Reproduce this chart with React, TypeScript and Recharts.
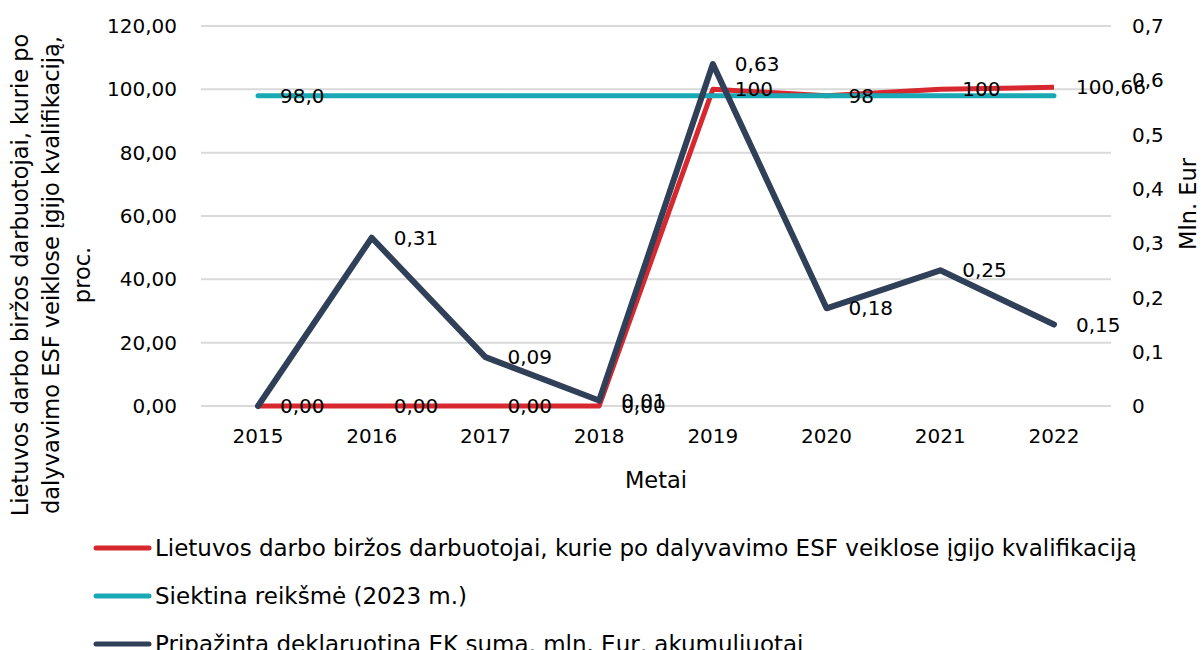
import React from "react"
import { LineChart, Line, XAxis, YAxis, CartesianGrid, Legend, LabelList } from "recharts"

const years = ["2015", "2016", "2017", "2018", "2019", "2020", "2021", "2022"]
const qualifiedPct = [0, 0, 0, 0, 100, 98, 100, 100.66]
const targetPct = [98, 98, 98, 98, 98, 98, 98, 98]
const ecAmount = [0, 0.31, 0.09, 0.01, 0.63, 0.18, 0.25, 0.15]

const qualifiedLabels = ["0,00", "0,00", "0,00", "0,00", "100", "98", "100", "100,66"]
const targetLabels = ["98,0", "", "", "", "", "", "", ""]
const ecLabels = ["", "0,31", "0,09", "0,01", "0,63", "0,18", "0,25", "0,15"]

const leftTicks = [0, 20, 40, 60, 80, 100, 120]
const rightTicks = [0, 0.1, 0.2, 0.3, 0.4, 0.5, 0.6, 0.7]

const seriesNames = {
  qualified: "Lietuvos darbo biržos darbuotojai, kurie po dalyvavimo ESF veiklose įgijo kvalifikaciją",
  target: "Siektina reikšmė (2023 m.)",
  ec: "Pripažinta deklaruotina EK suma, mln. Eur, akumuliuotai",
}

const colors = {
  qualified: "#d7282f",
  target: "#19a9b5",
  ec: "#2f4058",
}

const data = years.map((year, i) => ({
  year,
  qualified: qualifiedPct[i],
  target: targetPct[i],
  ec: ecAmount[i],
  qLabel: qualifiedLabels[i],
  tLabel: targetLabels[i],
  eLabel: ecLabels[i],
}))

const FONT = "'DejaVu Sans', sans-serif"
const TEXT_SIZE = 22.5
const NUM_SIZE = 20

function LeftTitle() {
  return (
    <text transform="translate(28,275) rotate(-90)" textAnchor="middle" fontSize={TEXT_SIZE} fill="#000" fontFamily={FONT}>
      <tspan x={0} dy={0}>Lietuvos darbo biržos darbuotojai, kurie po</tspan>
      <tspan x={0} dy={31}>dalyvavimo ESF veiklose įgijo kvalifikaciją,</tspan>
      <tspan x={0} dy={31}>proc.</tspan>
    </text>
  )
}

function RightTitle() {
  return (
    <text transform="translate(1196,204) rotate(-90)" textAnchor="middle" fontSize={TEXT_SIZE} fill="#000" fontFamily={FONT}>
      Mln. Eur
    </text>
  )
}

function LegendBox() {
  const items = (["qualified", "target", "ec"] as const).map((k) => ({ name: seriesNames[k], color: colors[k] }))
  return (
    <div style={{ height: 0, overflow: "visible" }}>
      {items.map((it) => (
        <div key={it.name} style={{ display: "flex", alignItems: "center", height: 48, whiteSpace: "nowrap" }}>
          <svg width={63} height={10} style={{ flex: "none" }}>
            <line x1={4} y1={5} x2={57} y2={5} stroke={it.color} strokeWidth={5} strokeLinecap="round" />
          </svg>
          <span style={{ fontSize: 23, color: "#000", fontFamily: FONT }}>{it.name}</span>
        </div>
      ))}
    </div>
  )
}

const fmtLeft = (v: number) => v.toFixed(2).replace(".", ",")
const fmtRight = (v: number) => (v === 0 ? "0" : String(Math.round(v * 10) / 10).replace(".", ","))

export default function App() {
  return (
    <div style={{ position: "absolute", left: 0, top: 0, width: 1204, height: 650, background: "#fff", fontFamily: FONT }}>
      <LineChart width={1204} height={650} data={data} margin={{ top: 26, right: 0, left: 0, bottom: 159 }}>
        <CartesianGrid vertical={false} stroke="#d9d9d9" strokeWidth={2} yAxisId="left" />
        <XAxis
          dataKey="year"
          height={85}
          padding={{ left: 57, right: 57 }}
          axisLine={false}
          tickLine={false}
          tickMargin={17}
          tick={{ fontSize: NUM_SIZE, fill: "#000" }}
          label={{ value: "Metai", position: "insideBottom", offset: 3, fontSize: TEXT_SIZE, fill: "#000" }}
        />
        <YAxis
          yAxisId="left"
          width={201}
          domain={[0, 120]}
          ticks={leftTicks}
          axisLine={false}
          tickLine={false}
          tickMargin={18}
          tickFormatter={fmtLeft}
          tick={{ fontSize: NUM_SIZE, fill: "#000" }}
          label={<LeftTitle />}
        />
        <YAxis
          yAxisId="right"
          orientation="right"
          width={93}
          domain={[0, 0.7]}
          ticks={rightTicks}
          axisLine={false}
          tickLine={false}
          tickMargin={15}
          tickFormatter={fmtRight}
          tick={{ fontSize: NUM_SIZE, fill: "#000", textAnchor: "start" }}
          label={<RightTitle />}
        />
        <Legend
          verticalAlign="bottom"
          layout="horizontal"
          content={<LegendBox />}
          wrapperStyle={{ top: 524, left: 92, bottom: "auto", width: 1110 }}
        />
        <Line
          yAxisId="left"
          dataKey="qualified"
          name={seriesNames.qualified}
          stroke={colors.qualified}
          strokeWidth={5}
          strokeLinejoin="round"
          dot={false}
          activeDot={false}
          isAnimationActive={false}
        >
          <LabelList dataKey="qLabel" position="right" offset={22} fontSize={NUM_SIZE} fill="#000" />
        </Line>
        <Line
          yAxisId="left"
          dataKey="target"
          name={seriesNames.target}
          stroke={colors.target}
          strokeWidth={5}
          strokeLinecap="round"
          dot={false}
          activeDot={false}
          isAnimationActive={false}
        >
          <LabelList dataKey="tLabel" position="right" offset={22} fontSize={NUM_SIZE} fill="#000" />
        </Line>
        <Line
          yAxisId="right"
          dataKey="ec"
          name={seriesNames.ec}
          stroke={colors.ec}
          strokeWidth={6}
          strokeLinejoin="round"
          strokeLinecap="round"
          dot={false}
          activeDot={false}
          isAnimationActive={false}
        >
          <LabelList dataKey="eLabel" position="right" offset={22} fontSize={NUM_SIZE} fill="#000" />
        </Line>
      </LineChart>
    </div>
  )
}
